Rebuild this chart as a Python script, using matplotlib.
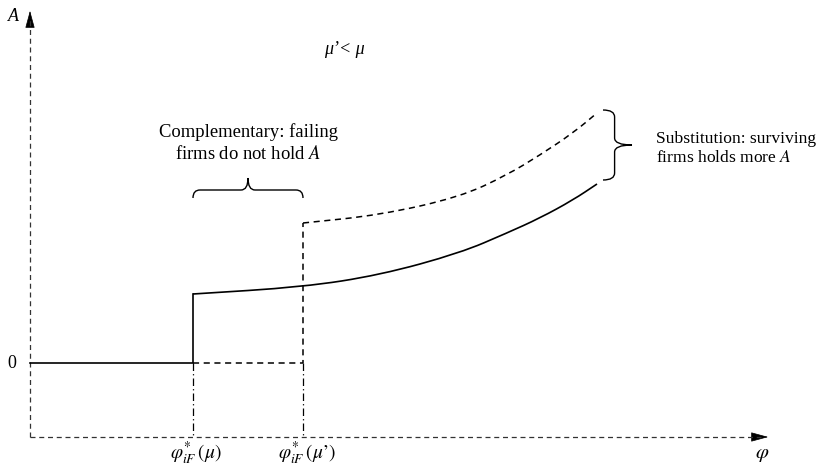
import numpy as np
import matplotlib.pyplot as plt
from matplotlib.path import Path
from matplotlib.patches import PathPatch, FancyArrowPatch

plt.rcParams["font.family"] = ["Liberation Serif", "DejaVu Serif"]
plt.rcParams["mathtext.fontset"] = "stix"

# thresholds on the productivity axis
phi_mu = 1.63       # phi*_iF(mu)
phi_mu_p = 2.73     # phi*_iF(mu')

# A held by surviving firms, cost mu
phi_solid = [1.63, 2.73, 3.50, 4.30, 4.77, 5.10, 5.43, 5.67]
a_solid = [0.69, 0.76, 0.88, 1.10, 1.30, 1.45, 1.63, 1.79]

# A held by surviving firms, cost mu' < mu
phi_dash = [2.73, 3.50, 4.30, 4.77, 5.10, 5.43, 5.67]
a_dash = [1.40, 1.48, 1.66, 1.88, 2.08, 2.30, 2.50]

x_end, y_end = 7.41, 3.55   # arrow tips of the axes
y_floor = -0.74             # where the phi axis sits

fig = plt.figure(figsize=(8.19, 4.68), dpi=100)
ax = fig.add_axes([0, 0, 1, 1])
ax.set_xlim(-0.30, 7.89)
ax.set_ylim(-1.05, 3.63)
ax.axis("off")

axis_kw = dict(color="#333333", lw=0.9, dashes=(4, 3))
ax.plot([0, x_end - 0.1], [y_floor, y_floor], **axis_kw)
ax.plot([0, 0], [y_floor, y_end - 0.1], **axis_kw)
for tip, tail in [((x_end, y_floor), (x_end - 0.15, y_floor)),
                  ((0, y_end), (0, y_end - 0.15))]:
    ax.add_patch(FancyArrowPatch(tail, tip, arrowstyle="-|>,head_length=1.1,head_width=0.3",
                                 mutation_scale=10, color="black", lw=0.5))


def smooth_path(xs, ys):
    # quadratic pieces through the midpoints, read points as controls
    pts = list(zip(xs, ys))
    verts = [pts[0], ((pts[0][0] + pts[1][0]) / 2, (pts[0][1] + pts[1][1]) / 2)]
    codes = [Path.MOVETO, Path.LINETO]
    for i in range(1, len(pts) - 1):
        mid = ((pts[i][0] + pts[i + 1][0]) / 2, (pts[i][1] + pts[i + 1][1]) / 2)
        verts += [pts[i], mid]
        codes += [Path.CURVE3, Path.CURVE3]
    verts.append(pts[-1])
    codes.append(Path.LINETO)
    return Path(verts, codes)


# solid path: zero, jump at phi*(mu), then rising curve
ax.plot([0, phi_mu, phi_mu], [0, 0, a_solid[0]], color="black", lw=1.2,
        solid_joinstyle="miter")
ax.add_patch(PathPatch(smooth_path(phi_solid, a_solid), fill=False, color="black", lw=1.2))

# dashed path: zero from phi*(mu) to phi*(mu'), jump, then higher curve
ax.plot([phi_mu, phi_mu_p, phi_mu_p], [0, 0, a_dash[0]], color="black", lw=1.1,
        dashes=(4, 3))
ax.add_patch(PathPatch(smooth_path(phi_dash, a_dash), fill=False, color="black", lw=1.1,
                       linestyle=(0, (4, 3))))

dashdot = dict(color="black", lw=0.9, dashes=(6, 2.5, 1, 2.5))
ax.plot([phi_mu, phi_mu], [0, y_floor], **dashdot)
ax.plot([phi_mu_p, phi_mu_p], [0, y_floor], **dashdot)


def brace(x0, x1, base, depth, vertical=False):
    # curly brace from x0 to x1, standing on `base`, tip at base + depth
    w = x1 - x0
    hb = 0.4 * depth
    c = 0.07
    pts = [(0, 0), (0, hb), (c, hb), (w / 2 - c, hb), (w / 2, hb), (w / 2, depth),
           (w / 2, hb), (w / 2 + c, hb), (w - c, hb), (w, hb), (w, 0)]
    codes = [Path.MOVETO, Path.CURVE3, Path.CURVE3, Path.LINETO, Path.CURVE3, Path.CURVE3,
             Path.CURVE3, Path.CURVE3, Path.LINETO, Path.CURVE3, Path.CURVE3]
    if vertical:
        verts = [(base + v, x0 + u) for u, v in pts]
    else:
        verts = [(x0 + u, base + v) for u, v in pts]
    ax.add_patch(PathPatch(Path(verts, codes), fill=False, color="black", lw=1.0))


brace(phi_mu, phi_mu_p, 1.65, 0.20)
brace(a_solid[-1] + 0.04, a_dash[-1] + 0.03, 5.73, 0.29, vertical=True)

txt = dict(fontsize=13, color="black")
ax.text(-0.17, 3.46, "A", style="italic", ha="center", va="center", **txt)
ax.text(-0.18, 0, "0", ha="center", va="center", **txt)
ax.text(3.14, 3.13, "μ’< μ", style="italic", ha="center", va="center", **txt)
ax.text(2.18, 2.20, "Complementary: failing\nfirms do not hold $\\mathit{A}$",
        ha="center", va="center", linespacing=1.25, fontsize=13.4, color="black")
ax.text(6.26, 2.14, "Substitution: surviving\nfirms holds more $\\mathit{A}$",
        ha="left", va="center", linespacing=1.25, fontsize=12.6, color="black")
ax.text(phi_mu + 0.03, -0.90, r"$\varphi^{*}_{iF}\,(\mu)$",
        ha="center", va="center", fontsize=14, color="black")
ax.text(phi_mu_p + 0.04, -0.90, r"$\varphi^{*}_{iF}\,(\mu’)$",
        ha="center", va="center", fontsize=14, color="black")
ax.text(7.32, -0.92, r"$\varphi$", ha="center", va="center", fontsize=15, color="black")

fig.savefig("out.png", dpi=100)
